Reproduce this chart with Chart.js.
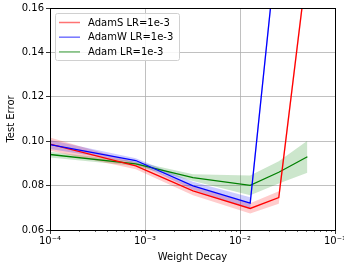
<!DOCTYPE html>
<html>
<head>
<meta charset="utf-8">
<script src="https://cdn.jsdelivr.net/npm/chart.js@4/dist/chart.umd.min.js"></script>
<style>
  html, body { margin: 0; padding: 0; background: #fff; }
  #wrap { width: 344px; height: 263px; }
</style>
</head>
<body>
<div id="wrap"><canvas id="chart"></canvas></div>
<script>
// Data
const weightDecay = [1e-4, 8e-4, 3.2e-3, 1.28e-2, 2.56e-2, 5.12e-2];
const adamSErr = [0.0987, 0.0889, 0.0776, 0.0697, 0.0746, 0.180];
const adamSStd = [0.0030, 0.0015, 0.0020, 0.0023, 0.0028, 0.0030];
const adamWErr = [0.0985, 0.0913, 0.0799, 0.0721, 0.196, null];
const adamWStd = [0.0020, 0.0010, 0.0018, 0.0026, 0.0030, null];
const adamErr = [0.0940, 0.0898, 0.0836, 0.0801, 0.0860, 0.0930];
const adamStd = [0.0013, 0.0010, 0.0015, 0.0045, 0.0050, 0.0072];
const seriesLabels = ['AdamS LR=1e-3', 'AdamW LR=1e-3', 'Adam LR=1e-3'];
const xTicks = [1e-4, 1e-3, 1e-2, 1e-1];
const xTickLabels = ['10\u207B\u2074', '10\u207B\u00B3', '10\u207B\u00B2', '10\u207B\u00B9'];
const yTicks = [0.06, 0.08, 0.10, 0.12, 0.14, 0.16];

const FONT = 'DejaVu Sans';
const pts = (ys) => weightDecay.map((x, i) => ({ x: x, y: ys[i] }));
const band = (ys, sd, sign) => weightDecay.map((x, i) => ({ x: x, y: ys[i] == null ? null : ys[i] + sign * sd[i] }));

function series(label, ys, sd, color, fillColor, order) {
  return [
    { label: label + ' hi', data: band(ys, sd, 1), borderWidth: 0, pointRadius: 0, fill: false, order: order + 10, isBand: true },
    { label: label + ' lo', data: band(ys, sd, -1), borderWidth: 0, pointRadius: 0, fill: '-1', backgroundColor: fillColor, order: order + 10, isBand: true },
    { label: label, data: pts(ys), borderColor: color, borderWidth: 1.3, pointRadius: 0, fill: false, order: order, legendColor: color }
  ];
}

const datasets = [
  ...series(seriesLabels[0], adamSErr, adamSStd, '#ff0000', 'rgba(255,0,0,0.2)', 2),
  ...series(seriesLabels[1], adamWErr, adamWStd, '#0000ff', 'rgba(0,0,255,0.2)', 1),
  ...series(seriesLabels[2], adamErr, adamStd, '#008000', 'rgba(0,128,0,0.2)', 3)
];

// frame, minor ticks and legend
const extras = {
  id: 'extras',
  afterDatasetsDraw(chart) {
    const { ctx, chartArea: a, scales } = chart;
    ctx.save();
    // minor ticks on log axis
    ctx.strokeStyle = '#000';
    ctx.lineWidth = 0.6;
    for (let e = -4; e < -1; e++) {
      for (let m = 2; m <= 9; m++) {
        const px = Math.round(scales.x.getPixelForValue(m * Math.pow(10, e))) + 0.5;
        ctx.beginPath();
        ctx.moveTo(px, a.bottom);
        ctx.lineTo(px, a.bottom + 2);
        ctx.stroke();
      }
    }
    // frame
    ctx.lineWidth = 1;
    ctx.strokeStyle = '#000';
    ctx.strokeRect(Math.round(a.left) + 0.5, Math.round(a.top) + 0.5, Math.round(a.right - a.left), Math.round(a.bottom - a.top));
    // legend
    const lx = a.left + 5, ly = a.top + 5, lw = 124, lh = 47;
    ctx.fillStyle = 'rgba(255,255,255,0.85)';
    ctx.strokeStyle = '#d0d0d0';
    ctx.lineWidth = 1;
    ctx.beginPath();
    ctx.roundRect(lx + 0.5, ly + 0.5, lw, lh, 2);
    ctx.fill();
    ctx.stroke();
    const main = chart.data.datasets.filter(d => !d.isBand);
    ctx.font = '10px "' + FONT + '"';
    ctx.textBaseline = 'middle';
    main.forEach((d, i) => {
      const y = ly + 9.5 + i * 14.7;
      ctx.globalAlpha = 0.55;
      ctx.strokeStyle = d.legendColor;
      ctx.lineWidth = 1.5;
      ctx.beginPath();
      ctx.moveTo(lx + 4, y);
      ctx.lineTo(lx + 25, y);
      ctx.stroke();
      ctx.globalAlpha = 1;
      ctx.fillStyle = '#000';
      ctx.fillText(d.label, lx + 33, y + 0.5);
    });
    ctx.restore();
  }
};

new Chart(document.getElementById('chart'), {
  type: 'line',
  data: { datasets: datasets },
  plugins: [extras],
  options: {
    responsive: true,
    maintainAspectRatio: false,
    animation: false,
    layout: { padding: { top: 8, right: 9, left: 0, bottom: 0 } },
    plugins: {
      legend: { display: false },
      tooltip: { enabled: false }
    },
    scales: {
      x: {
        type: 'logarithmic',
        min: 1e-4,
        max: 1e-1,
        afterBuildTicks: (s) => { s.ticks = xTicks.map(v => ({ value: v, major: true })); },
        afterFit: (s) => { s.height = 33; s.paddingLeft = 0; s.paddingRight = 0; },
        ticks: {
          autoSkip: false,
          maxRotation: 0,
          padding: 1,
          color: '#000',
          font: { family: FONT, size: 10 },
          callback: (v) => { const i = xTicks.findIndex(t => Math.abs(t - v) / t < 1e-6); return i >= 0 ? xTickLabels[i] : ''; }
        },
        grid: { color: '#b0b0b0', lineWidth: 0.8, tickColor: '#000', tickLength: 4 },
        border: { display: false },
        title: { display: true, text: 'Weight Decay', color: '#000', font: { family: FONT, size: 10 }, padding: { top: 0, bottom: 0 } }
      },
      y: {
        min: 0.06,
        max: 0.16,
        afterBuildTicks: (s) => { s.ticks = yTicks.map(v => ({ value: v })); },
        afterFit: (s) => { s.width = 50; s.paddingTop = 0; s.paddingBottom = 0; },
        ticks: {
          padding: 2,
          color: '#000',
          font: { family: FONT, size: 10 },
          callback: (v) => Number(v).toFixed(2)
        },
        grid: { color: '#b0b0b0', lineWidth: 0.8, tickColor: '#000', tickLength: 4 },
        border: { display: false },
        title: { display: true, text: 'Test Error', color: '#000', font: { family: FONT, size: 10 }, padding: { top: 5, bottom: 0 } }
      }
    }
  }
});
</script>
</body>
</html>
